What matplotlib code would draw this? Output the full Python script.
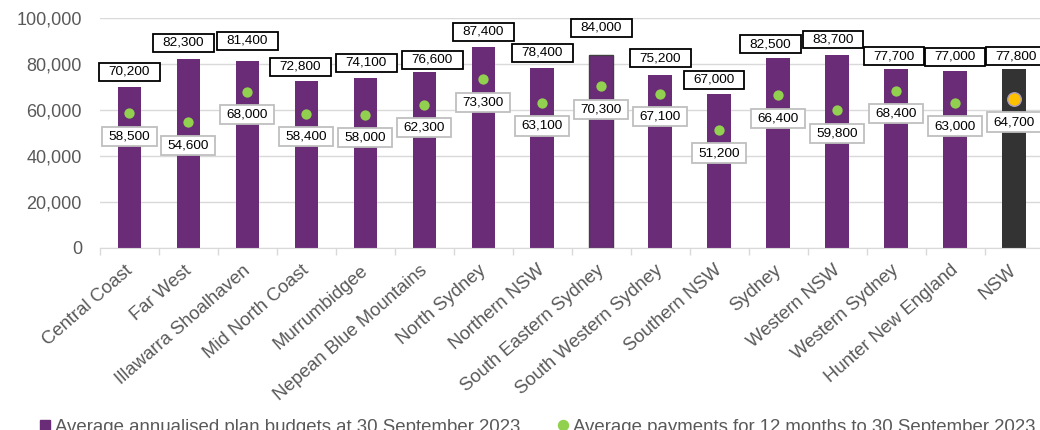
import matplotlib.pyplot as plt
from matplotlib.lines import Line2D
from matplotlib.path import Path
from matplotlib.transforms import ScaledTranslation
import numpy as np

plt.rcParams['font.family'] = ['Liberation Sans', 'DejaVu Sans']

regions = [
    'Central Coast', 'Far West', 'Illawarra Shoalhaven', 'Mid North Coast',
    'Murrumbidgee', 'Nepean Blue Mountains', 'North Sydney', 'Northern NSW',
    'South Eastern Sydney', 'South Western Sydney', 'Southern NSW', 'Sydney',
    'Western NSW', 'Western Sydney', 'Hunter New England', 'NSW'
]
budgets = [70200, 82300, 81400, 72800, 74100, 76600, 87400, 78400,
           84000, 75200, 67000, 82500, 83700, 77700, 77000, 77800]
payments = [58500, 54600, 68000, 58400, 58000, 62300, 73300, 63100,
            70300, 67100, 51200, 66400, 59800, 68400, 63000, 64700]

# budget label nudges in pixels, as they sit in the original
budget_dx = [0, -5, 0, -6, 1, 8, 0, 0, 0, 0, -5, -8, -4, -2, 0, 2]
budget_dy = [15, 16, 20, 14, 15, 12, 15, 15, 27, 17, 14, 14, 16, 13, 14, 13]

purple = '#6A2C77'
green = '#92D050'
grey_text = '#595959'
grid_col = '#D9D9D9'


def label_box(padx, pady):
    # square box with more room left/right than top/bottom
    def box(x0, y0, width, height, mutation_size):
        px = padx * mutation_size
        py = pady * mutation_size
        x0, y0 = x0 - px, y0 - py
        x1, y1 = x0 + width + 2 * px, y0 + height + 2 * py
        return Path([(x0, y0), (x1, y0), (x1, y1), (x0, y1), (x0, y0)], closed=True)
    return box


x = np.arange(len(regions))
fig = plt.figure(figsize=(10.4, 4.3), dpi=100)
ax = fig.add_axes([100 / 1040, 182 / 430, 943.5 / 1040, 230 / 430])

colors = [purple] * (len(regions) - 1) + ['#333333']
edges = ['none'] * len(regions)
edges[8] = '#404040'
ax.bar(x, budgets, width=0.4, color=colors, edgecolor=edges, linewidth=1, zorder=2)

ax.scatter(x[:-1], payments[:-1], s=55, color=green, zorder=3, linewidths=0)
ax.scatter(x[-1:], payments[-1:], s=95, color='#FFC000', edgecolor='#A99CC0', linewidths=1, zorder=3)

for i in x:
    ax.annotate(f'{budgets[i]:,}', xy=(i, budgets[i]), xytext=(budget_dx[i], budget_dy[i]),
                textcoords='offset pixels', ha='center', va='center', fontsize=9.7,
                bbox=dict(boxstyle=label_box(0.72, 0.22), fc='white', ec='black', lw=1.3), zorder=4)
    ax.annotate(f'{payments[i]:,}', xy=(i, payments[i]), xytext=(0, -23),
                textcoords='offset pixels', ha='center', va='center', fontsize=9.7,
                bbox=dict(boxstyle=label_box(0.47, 0.28), fc='white', ec='#BFBFBF', lw=1.3), zorder=4)

ax.set_xlim(-0.5, len(regions) - 0.5)
ax.set_ylim(0, 100000)
ax.set_yticks(np.arange(0, 100001, 20000))
ax.yaxis.set_major_formatter(plt.FuncFormatter(lambda v, p: f'{v:,.0f}'))
ax.grid(axis='y', color=grid_col, linewidth=1, zorder=0)
ax.set_axisbelow(True)

ax.set_xticks(x)
ax.set_xticklabels(regions, rotation=41, ha='right', rotation_mode='anchor')
ax.set_xticks(np.arange(-0.5, len(regions)), minor=True)
ax.tick_params(axis='x', which='major', length=0, pad=10, labelsize=13.3, labelcolor=grey_text)
ax.tick_params(axis='x', which='minor', length=5, color=grid_col, width=1)
ax.tick_params(axis='y', length=0, pad=13, labelsize=13, labelcolor=grey_text)
# nudge the slanted labels a little to the left, like the original
shift = ScaledTranslation(-5 / 100, 0, fig.dpi_scale_trans)
for lbl in ax.get_xticklabels():
    lbl.set_transform(lbl.get_transform() + shift)

for side in ['top', 'right', 'left']:
    ax.spines[side].set_visible(False)
ax.spines['bottom'].set_color(grid_col)

handles = [
    Line2D([], [], marker='s', color=purple, linestyle='none', markersize=7.2),
    Line2D([], [], marker='o', color=green, linestyle='none', markersize=7.2),
]
fig.legend(handles, ['Average annualised plan budgets at 30 September 2023',
                     'Average payments for 12 months to 30 September 2023'],
           loc='center left', bbox_to_anchor=(39 / 1040, 3 / 430), ncol=2, frameon=False,
           fontsize=13.4, labelcolor=grey_text, handlelength=0.6, handletextpad=0.25,
           columnspacing=2.0, borderpad=0, borderaxespad=0)

fig.savefig('out.png', dpi=100)
